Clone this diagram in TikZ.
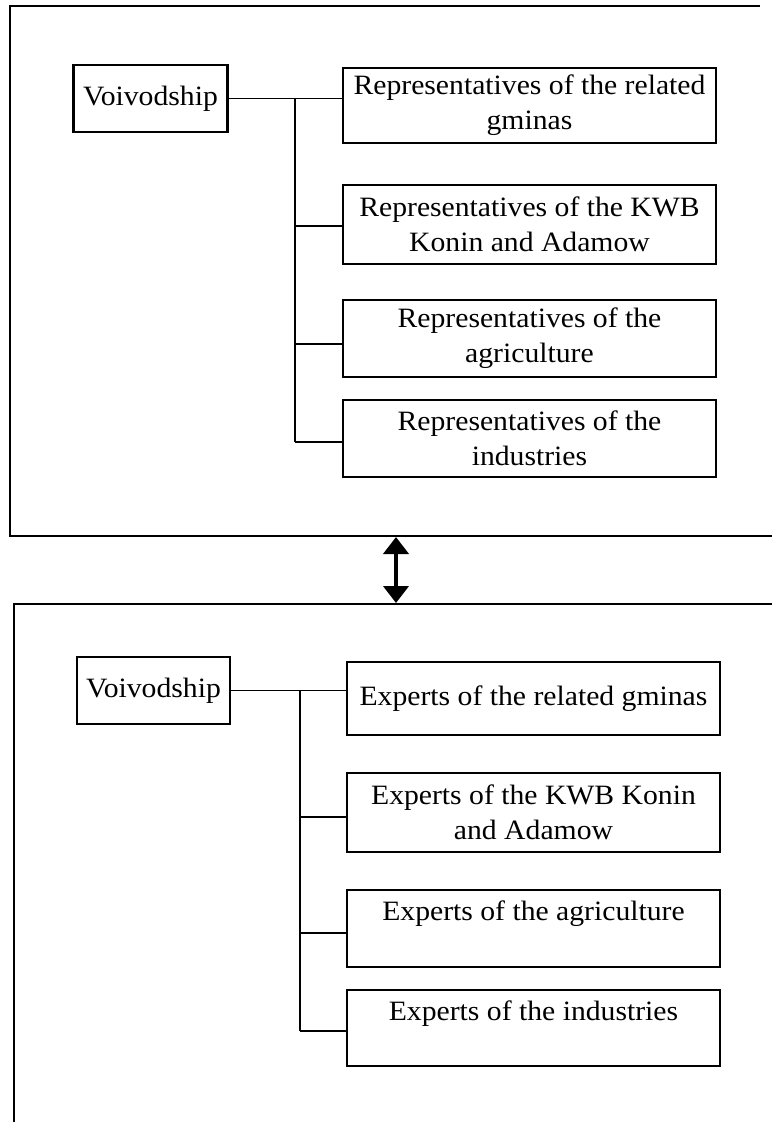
\documentclass[tikz,border=0pt]{standalone}
\usepackage{fontspec}
\setmainfont{Liberation Serif}[FakeStretch=1.06]
\usetikzlibrary{arrows.meta}
\begin{document}
\begin{tikzpicture}[x=1pt,y=-1pt,
  box/.style={draw, line width=2.4pt, inner sep=0pt, align=center,
    font=\fontsize{28}{35}\selectfont},
  vbox/.style={box, minimum width=154pt, minimum height=67pt},
  rbox/.style={box, minimum width=373pt},
  conn/.style={line width=2.2pt},
  thinconn/.style={line width=1.6pt},
  frameline/.style={line width=2.4pt},
  dbl/.style={line width=4pt, {Triangle[width=25pt,length=17pt]}-{Triangle[width=25pt,length=17pt]}}
]
\useasboundingbox (0,0) rectangle (772,1122);
% outer frames
\draw[frameline] (760,6) -- (10,6) -- (10,536) -- (772,536);
\draw[frameline] (14,1122) -- (14,604) -- (772,604);

% ---------- upper block ----------
\node[vbox] (v1) at (150.5,98.5) {Voivodship};
\node[rbox, minimum height=75pt] (r1) at (529.5,105.5) {Representatives of the related\\gminas};
\node[rbox, minimum height=79pt] (r2) at (529.5,224.5) {Representatives of the KWB\\Konin and Adamow};
\node[rbox, minimum height=77pt] (r3) at (529.5,338.5) {Representatives of the\\agriculture};
\node[rbox, minimum height=77pt] (r4) at (529.5,438.5) {Representatives of the\\industries};

\coordinate (b1) at (295,98.5);
\coordinate (b2) at (295,226);
\coordinate (b3) at (295,344);
\coordinate (b4) at (295,442);
\draw[thinconn] (v1.east) -- (v1.east -| r1.west);
\draw[conn] (b1) -- (b4);
\draw[conn] (b2) -- (b2 -| r2.west);
\draw[conn] (b3) -- (b3 -| r3.west);
\draw[conn] (b4) -- (b4 -| r4.west);

% ---------- arrow ----------
\coordinate (a1) at (396,537);
\coordinate (a2) at (396,603);
\draw[dbl] (a1) -- (a2);

% ---------- lower block ----------
\node[vbox, minimum width=153pt] (v2) at (153.5,690.5) {Voivodship};
\node[rbox, minimum height=73pt] (e1) at (533.5,698.5) {Experts of the related gminas};
\node[rbox, minimum height=79pt] (e2) at (533.5,812.5) {Experts of the KWB Konin\\and Adamow};
\node[rbox, minimum height=77pt] (e3) at (533.5,928.5) {Experts of the agriculture\\~};
\node[rbox, minimum height=76pt] (e4) at (533.5,1028) {Experts of the industries\\~};

\coordinate (c1) at (300,690.5);
\coordinate (c2) at (300,817);
\coordinate (c3) at (300,933);
\coordinate (c4) at (300,1031);
\draw[thinconn] (v2.east) -- (v2.east -| e1.west);
\draw[conn] (c1) -- (c4);
\draw[conn] (c2) -- (c2 -| e2.west);
\draw[conn] (c3) -- (c3 -| e3.west);
\draw[conn] (c4) -- (c4 -| e4.west);
\end{tikzpicture}
\end{document}
